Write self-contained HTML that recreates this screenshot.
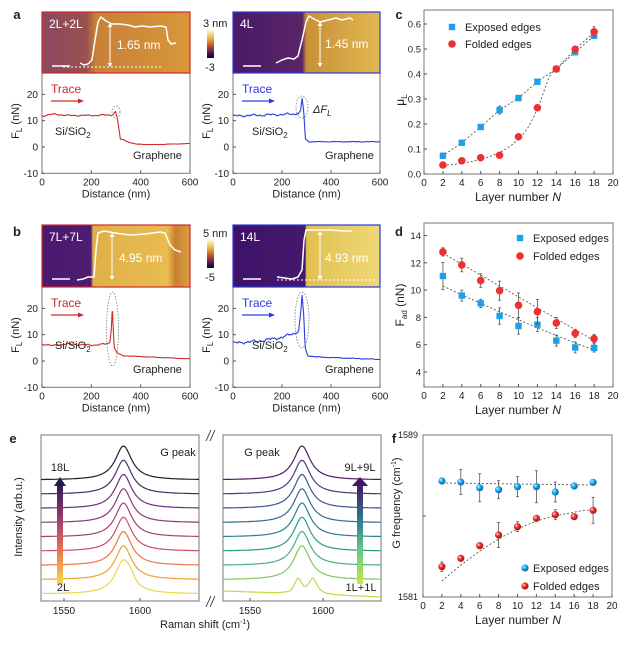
<!DOCTYPE html>
<html><head><meta charset="utf-8"><style>
html,body{margin:0;padding:0;background:#fff}
svg{display:block;font-family:"Liberation Sans",Arial,sans-serif}
</style></head><body>
<svg id="s" width="630" height="657" viewBox="0 0 630 657" xmlns="http://www.w3.org/2000/svg">
<defs>
<linearGradient id="cb" x1="0" y1="0" x2="0" y2="1"><stop offset="0" stop-color="#fffbd0"/><stop offset="0.3" stop-color="#e8b040"/><stop offset="0.6" stop-color="#b04830"/><stop offset="0.85" stop-color="#40105a"/><stop offset="1" stop-color="#100818"/></linearGradient>
<linearGradient id="arL" x1="0" y1="1" x2="0" y2="0"><stop offset="0" stop-color="#f5d848"/><stop offset="0.35" stop-color="#e87050"/><stop offset="0.65" stop-color="#a03a70"/><stop offset="1" stop-color="#2a1a50"/></linearGradient>
<linearGradient id="arR" x1="0" y1="1" x2="0" y2="0"><stop offset="0" stop-color="#c8e840"/><stop offset="0.35" stop-color="#60c890"/><stop offset="0.65" stop-color="#2e7890"/><stop offset="1" stop-color="#44146a"/></linearGradient>
<radialGradient id="gb" cx="0.35" cy="0.35" r="0.7"><stop offset="0" stop-color="#c8f0ff"/><stop offset="0.4" stop-color="#22a8f0"/><stop offset="1" stop-color="#0a5ca0"/></radialGradient>
<radialGradient id="gr" cx="0.35" cy="0.35" r="0.7"><stop offset="0" stop-color="#ffd8d8"/><stop offset="0.4" stop-color="#f03030"/><stop offset="1" stop-color="#a01010"/></radialGradient>
<linearGradient id="afm1" x1="0" y1="0" x2="1" y2="0"><stop offset="0" stop-color="#8a4860"/><stop offset="0.3" stop-color="#9a5050"/><stop offset="0.36" stop-color="#c88038"/><stop offset="1" stop-color="#d89838"/></linearGradient>
<linearGradient id="afm2" x1="0" y1="0" x2="1" y2="0"><stop offset="0" stop-color="#4a1a68"/><stop offset="0.47" stop-color="#5a2468"/><stop offset="0.5" stop-color="#c89038"/><stop offset="1" stop-color="#e0b850"/></linearGradient>
<linearGradient id="afm3" x1="0" y1="0" x2="1" y2="0"><stop offset="0" stop-color="#4a1a70"/><stop offset="0.33" stop-color="#4e1c70"/><stop offset="0.345" stop-color="#e0b048"/><stop offset="0.85" stop-color="#e8bc50"/><stop offset="0.9" stop-color="#c88030"/><stop offset="1" stop-color="#d8a040"/></linearGradient>
<linearGradient id="afm4" x1="0" y1="0" x2="1" y2="0"><stop offset="0" stop-color="#3e1268"/><stop offset="0.49" stop-color="#44186c"/><stop offset="0.5" stop-color="#e0c050"/><stop offset="1" stop-color="#f0d878"/></linearGradient>
</defs>
<g id="root" font-size="10" fill="#222"></g>
</svg>
<script>
const NS="http://www.w3.org/2000/svg",R=document.getElementById('root');
function el(t,a,txt){const e=document.createElementNS(NS,t);for(const k in a)e.setAttribute(k,a[k]);if(txt!==undefined)e.innerHTML=txt;R.appendChild(e);return e;}
function T(x,y,s,o){o=o||{};return el('text',Object.assign({x:x,y:y,'font-size':o.fs||10,'text-anchor':o.a||'middle',fill:o.f||'#222'},o.rot?{transform:`rotate(-90 ${x} ${y})`}:{},o.fw?{'font-weight':o.fw}:{},o.fst?{'font-style':o.fst}:{}),s);}
function L(x1,y1,x2,y2,c,w,d){return el('line',Object.assign({x1,y1,x2,y2,stroke:c||'#555','stroke-width':w||1},d?{'stroke-dasharray':d}:{}));}
function P(d,c,w,extra){return el('path',Object.assign({d:d,fill:'none',stroke:c,'stroke-width':w||1,'stroke-linejoin':'round'},extra||{}));}
function interp(pts,x){for(let i=1;i<pts.length;i++){if(x<=pts[i][0]){const a=pts[i-1],b=pts[i];return a[1]+(b[1]-a[1])*(x-a[0])/(b[0]-a[0]);}}return pts[pts.length-1][1];}
function noise(x,s){return Math.sin(x*0.09+s)*0.5+Math.sin(x*0.23+s*2)*0.35+Math.sin(x*0.51+s*3)*0.25;}
T(17,19,'a',{fs:13,fw:'bold'});T(17,236,'b',{fs:13,fw:'bold'});T(399,19,'c',{fs:13,fw:'bold'});T(399,236,'d',{fs:13,fw:'bold'});T(13,443,'e',{fs:13,fw:'bold'});T(394,443,'f',{fs:13,fw:'bold'});
function forcePanel(x0,x1,yTop,yAFM,y0,col,pts,nA,spikeL,spikeR,ell,afm,prof,base,arX,lbl,ht,htX,isLeft){
  const yb=y0+26.3;
  el('rect',{x:x0,y:yTop,width:x1-x0,height:yAFM-yTop,fill:`url(#${afm})`});
  P(prof,'#fff',1.5);
  L(prof.split(' ')[1]*1,base,prof.split(' ')[1]*1+98,base,'#fff',1,'2,2');
  L(arX,ht[0]+2,arX,base-2,'#fff',1);
  el('path',{d:`M${arX-2.5} ${ht[0]+4}L${arX} ${ht[0]}L${arX+2.5} ${ht[0]+4}Z M${arX-2.5} ${base-4}L${arX} ${base}L${arX+2.5} ${base-4}Z`,fill:'#fff'});
  T(htX,ht[1],ht[2],{fs:12,a:'start',f:'#fff'});
  L(x0+10,base-1,x0+28,base-1,'#fff',1.5);
  T(x0+7,yTop+16,lbl,{fs:12,a:'start',f:'#fff'});
  el('rect',{x:x0,y:yTop,width:x1-x0,height:yb-yTop,fill:'none',stroke:'#777','stroke-width':1});
  el('rect',{x:x0,y:yTop,width:x1-x0,height:yAFM-yTop,fill:'none',stroke:col,'stroke-width':1.2});
  [20,10,0,-10].forEach(v=>{const y=y0-2.63*v;L(x0,y,x0+3,y,'#555');T(x0-4,y+3.5,v,{a:'end'});});
  [0,200,400,600].forEach(v=>{const x=x0+v*(x1-x0)/600;L(x,yb,x,yb-3,'#555');T(x,yb+12,v);});
  T(x0+(x1-x0)/2,yb+24,'Distance (nm)',{fs:11});
  T(x0-23,y0-26,'F<tspan font-size="8" dy="3">L</tspan><tspan dy="-3"> (nN)</tspan>',{fs:11,rot:1});
  let d='';
  for(let n=0;n<=600;n+=2){let v=interp(pts,n);if(n<spikeL)v+=nA*noise(n,x0);else if(n>spikeR)v+=0.25*nA*noise(n,x0+7);const x=x0+n*(x1-x0)/600,y=y0-2.63*v;d+=(n?'L':'M')+x.toFixed(1)+' '+y.toFixed(1);}
  P(d,col,1.1);
  el('ellipse',{cx:ell[0],cy:ell[1],rx:ell[2],ry:ell[3],fill:'none',stroke:'#888','stroke-width':0.9,'stroke-dasharray':'1.5,1.5'});
  T(x0+9,yAFM+20,'Trace',{fs:12,a:'start',f:col});
  L(x0+9,yAFM+28,x0+38,yAFM+28,col,1.2);
  el('path',{d:`M${x0+36} ${yAFM+25.5}L${x0+42} ${yAFM+28}L${x0+36} ${yAFM+30.5}Z`,fill:col});
  T(x0+(isLeft?13:19),y0-12,'Si/SiO<tspan font-size="8" dy="3">2</tspan>',{fs:11,a:'start'});
  T(x0+(isLeft?91:92),y0+12,'Graphene',{fs:11,a:'start'});
}
forcePanel(42,190,12,73,147,'#d02828',[[0,11.8],[50,12.5],[100,12],[200,12],[285,12.2],[298,13.5],[305,11],[318,3],[330,2.8],[345,2],[380,1.1],[450,0.9],[600,1.3]],0.3,290,340,[116,112,4,6],'afm1',
 'M80 63 L84 65 L88 64 L92 60 L95 40 L98 22 L101 17 L106 21 L112 24 L120 24 L128 25 L135 27 L142 26 L150 27 L160 26 L166 27 L168 40 L171 44 L176 43',67,110,'2L+2L',[23,49,'1.65 nm'],117,true);
forcePanel(233,380,12,73,147,'#2a3ae0',[[0,11.8],[250,12.5],[268,12.8],[276,14],[282,18.5],[288,14],[296,3],[310,2],[600,2]],0.5,262,300,[302,107,6,11],'afm2',
 'M276 63 L282 60 L288 58 L294 59 L298 56 L302 40 L306 22 L309 16 L314 19 L320 22 L328 20 L336 18 L342 20 L350 18 L353 20',67,320,'4L',[22,48,'1.45 nm'],325,false);
T(313,113,'ΔF<tspan font-size="8" dy="3">L</tspan>',{fs:11,a:'start',fst:'italic'});
forcePanel(42,190,225,287,361,'#d02828',[[0,6.5],[40,5.8],[100,6.5],[200,6],[265,6.5],[275,7],[281,12],[285,21],[289,12],[293,5],[305,3],[330,2],[600,0.8]],0.35,270,300,[112.5,329,6,37],'afm3',
 'M77 280 L83 279 L88 277 L94 277 L96 250 L98 233 L104 231 L115 233 L130 235 L145 234 L160 232 L165 233 L170 245 L175 250 L181 252',280,112,'7L+7L',[233,262,'4.95 nm'],119,true);
forcePanel(233,380,225,287,361,'#2a3ae0',[[0,6.8],[100,7.5],[200,9],[250,10.5],[268,11.5],[276,18],[282,25],[288,18],[295,5],[305,2],[350,1.5],[600,0.6]],0.6,265,300,[302,320,7,28],'afm4',
 'M277 277 L285 278 L292 279 L298 277 L302 270 L304 240 L306 230 L315 230 L330 230 L345 231 L352 231',280,320,'14L',[231,262,'4.93 nm'],325,false);
el('rect',{x:207,y:30,width:7,height:28,fill:'url(#cb)'});T(203,27,'3 nm',{fs:11,a:'start'});T(210,71,'-3',{fs:11});
el('rect',{x:207,y:240,width:7,height:28,fill:'url(#cb)'});T(203,237,'5 nm',{fs:11,a:'start'});T(210,281,'-5',{fs:11});
function NAx(yb,ytop){el('rect',{x:424,y:ytop,width:189,height:yb-ytop,fill:'none',stroke:'#777'});
 for(let n=0;n<=20;n+=2){const x=424+9.45*n;L(x,yb,x,yb-3,'#555');T(x,yb+12,n);}
 T(518,yb+27,'Layer number <tspan font-style="italic">N</tspan>',{fs:12});}
const X=n=>424+9.45*n;
NAx(174,10);
[0,0.1,0.2,0.3,0.4,0.5,0.6].forEach(v=>{const y=174-250*v;L(424,y,427,y,'#555');T(421,y+3.5,v.toFixed(1),{a:'end',fs:9.5});});
T(404,100,'μ<tspan font-size="8" dy="3">L</tspan>',{fs:12,rot:1});
const cE=[.073,.125,.188,.256,.304,.369,.42,.487,.553],cF=[.036,.053,.065,.075,.149,.265,.42,.499,.569];
const cy=v=>174-250*v;
P('M'+X(2)+' '+cy(.068)+' L'+cE.map((v,i)=>X(2+2*i)+' '+cy(v)).join(' L'),'#555',0.9,{'stroke-dasharray':'2,2'});
P(`M${X(2)} ${cy(.034)} C${X(7)} ${cy(.05)} ${X(10)} ${cy(.1)} ${X(11.5)} ${cy(.22)} S${X(13)} ${cy(.4)} ${X(14)} ${cy(.42)} L${X(16)} ${cy(.5)} L${X(18)} ${cy(.565)}`,'#555',0.9,{'stroke-dasharray':'2,2'});
const sq=(x,y)=>el('rect',{x:x-3.2,y:y-3.2,width:6.4,height:6.4,fill:'#1ea0e8'});
const ci=(x,y)=>el('circle',{cx:x,cy:y,r:3.8,fill:'#ee3030'});
const eb=(x,y,e)=>{L(x,y-e,x,y+e,'#555',0.8);L(x-1.5,y-e,x+1.5,y-e,'#555',0.8);L(x-1.5,y+e,x+1.5,y+e,'#555',0.8);};
cE.forEach((v,i)=>{eb(X(2+2*i),cy(v),i==3?4:2);sq(X(2+2*i),cy(v));});
cF.forEach((v,i)=>{eb(X(2+2*i),cy(v),i==8?5:2);ci(X(2+2*i),cy(v));});
sq(452,27);T(465,31,'Exposed edges',{fs:11,a:'start'});ci(452,44);T(465,48,'Folded edges',{fs:11,a:'start'});
NAx(387,223);
const dy=v=>372-(v-4)*13.65;
[4,6,8,10,12,14].forEach(v=>{L(424,dy(v),427,dy(v),'#555');T(421,dy(v)+3.5,v,{a:'end',fs:9.5});});
T(404,305,'F<tspan font-size="8" dy="3">ad</tspan><tspan dy="-3"> (nN)</tspan>',{fs:12,rot:1});
const dE=[11.03,9.6,9.03,8.1,7.37,7.47,6.3,5.8,5.76],dF=[12.8,11.84,10.7,9.96,8.89,8.42,7.59,6.83,6.44];
const eE=[1,.4,.3,.6,.6,.5,.4,.4,.3],eF=[.3,.5,.5,.7,.9,.9,.4,.3,.3];
P(`M${X(2)} ${dy(12.7)} Q${X(10)} ${dy(9.5)} ${X(18)} ${dy(6.3)}`,'#555',0.9,{'stroke-dasharray':'2,2'});
P(`M${X(2)} ${dy(10.3)} Q${X(10)} ${dy(7.7)} ${X(18)} ${dy(5.6)}`,'#555',0.9,{'stroke-dasharray':'2,2'});
dE.forEach((v,i)=>{eb(X(2+2*i),dy(v),eE[i]*13.65);sq(X(2+2*i),dy(v));});
dF.forEach((v,i)=>{eb(X(2+2*i),dy(v),eF[i]*13.65);ci(X(2+2*i),dy(v));});
sq(520,238);T(533,242,'Exposed edges',{fs:11,a:'start'});ci(520,256);T(533,260,'Folded edges',{fs:11,a:'start'});
el('rect',{x:41,y:435,width:158,height:166,fill:'none',stroke:'#777'});
el('rect',{x:223,y:435,width:158,height:166,fill:'none',stroke:'#777'});
el('rect',{x:203,y:428,width:16,height:180,fill:'#fff'});
L(206,441,211,430,'#333',0.9);L(210,441,215,430,'#333',0.9);L(206,607,211,596,'#333',0.9);L(210,607,215,596,'#333',0.9);
[[64,'1550'],[140,'1600']].forEach(a=>{L(a[0],601,a[0],598,'#555');T(a[0],614,a[1]);});
[[250,'1550'],[323,'1600']].forEach(a=>{L(a[0],601,a[0],598,'#555');T(a[0],614,a[1]);});
T(205,628,'Raman shift (cm<tspan font-size="7" dy="-4">-1</tspan><tspan dy="4">)</tspan>',{fs:11});
T(22,517,'Intensity (arb.u.)',{fs:11,rot:1});
const cl=['#e8d84a','#f0a030','#e87848','#c85060','#a8406e','#8a3a7a','#6a3080','#483068','#222222'];
const cr=['#b8dc48','#80c860','#48b07a','#2a9a88','#288090','#306a92','#3c5490','#483c84','#4a1c6a'];
for(let k=0;k<9;k++){const b=480+(8-k)*14.25;let d='',d2='';
 for(let x=41;x<=199;x+=1){let y=b-34*100/((x-123.5)**2+100);if(k==0)y-=4*Math.exp(-((x-131)**2)/18);d+=(x==41?'M':'L')+x+' '+y.toFixed(1);}
 P(d,cl[k],1.2);
 for(let x=223;x<=381;x+=1){let y;
  if(k==0){y=591+6*(x-223)/158-11*Math.exp(-((x-298)**2)/20)-15*25/((x-313)**2+25)-3*Math.exp(-((x-300)**2)/200);}
  else y=b-34*100/((x-302)**2+100);
  d2+=(x==223?'M':'L')+x+' '+y.toFixed(1);}
 P(d2,cr[k],1.2);}
el('rect',{x:57,y:484,width:6,height:100,fill:'url(#arL)'});el('path',{d:'M54 486 L60 477 L66 486Z',fill:'#2a1a50'});
el('rect',{x:357,y:484,width:6,height:100,fill:'url(#arR)'});el('path',{d:'M352 486 L360 477 L368 486Z',fill:'#44146a'});
T(60,471,'18L',{fs:11});T(63,591,'2L',{fs:11});T(178,456,'G peak',{fs:11});T(262,456,'G peak',{fs:11});T(360,471,'9L+9L',{fs:11});T(361,591,'1L+1L',{fs:11});
el('rect',{x:423,y:435,width:189,height:162,fill:'none',stroke:'#777'});
const fx=n=>423+9.45*n;
for(let n=0;n<=20;n+=2){const x=fx(n);L(x,597,x,594,'#555');T(x,609,n);}
T(518,624,'Layer number <tspan font-style="italic">N</tspan>',{fs:12});
L(423,516,426,516,'#555');T(418,438,'1589',{fs:9,a:'end'});T(418,600,'1581',{fs:9,a:'end'});
T(400,503,'G frequency (cm<tspan font-size="7" dy="-4">-1</tspan><tspan dy="4">)</tspan>',{fs:11,rot:1});
const fE=[481,482,487.7,489.7,486.7,486.7,492,486,482.3],fEe=[3,12.5,14,9,10,16,10,2,2];
const fF=[566.7,558.3,545.7,535,526.7,518.3,514.7,516.7,510.3],fFe=[4.7,2,3,12.5,5,2,5,2,13];
P(`M${fx(2)} 483 L${fx(18)} 485`,'#555',0.9,{'stroke-dasharray':'2,2'});
P(`M${fx(2)} 581 C${fx(6)} 548 ${fx(10)} 524 ${fx(14)} 516 S${fx(17)} 511 ${fx(18)} 510`,'#555',0.9,{'stroke-dasharray':'2,2'});
fE.forEach((v,i)=>{eb(fx(2+2*i),v,fEe[i]);el('circle',{cx:fx(2+2*i),cy:v,r:3.6,fill:'url(#gb)'});});
fF.forEach((v,i)=>{eb(fx(2+2*i),v,fFe[i]);el('circle',{cx:fx(2+2*i),cy:v,r:3.6,fill:'url(#gr)'});});
el('circle',{cx:525,cy:568,r:3.6,fill:'url(#gb)'});T(533,572,'Exposed edges',{fs:11,a:'start'});
el('circle',{cx:525,cy:586,r:3.6,fill:'url(#gr)'});T(533,590,'Folded edges',{fs:11,a:'start'});
</script>
</body></html>
